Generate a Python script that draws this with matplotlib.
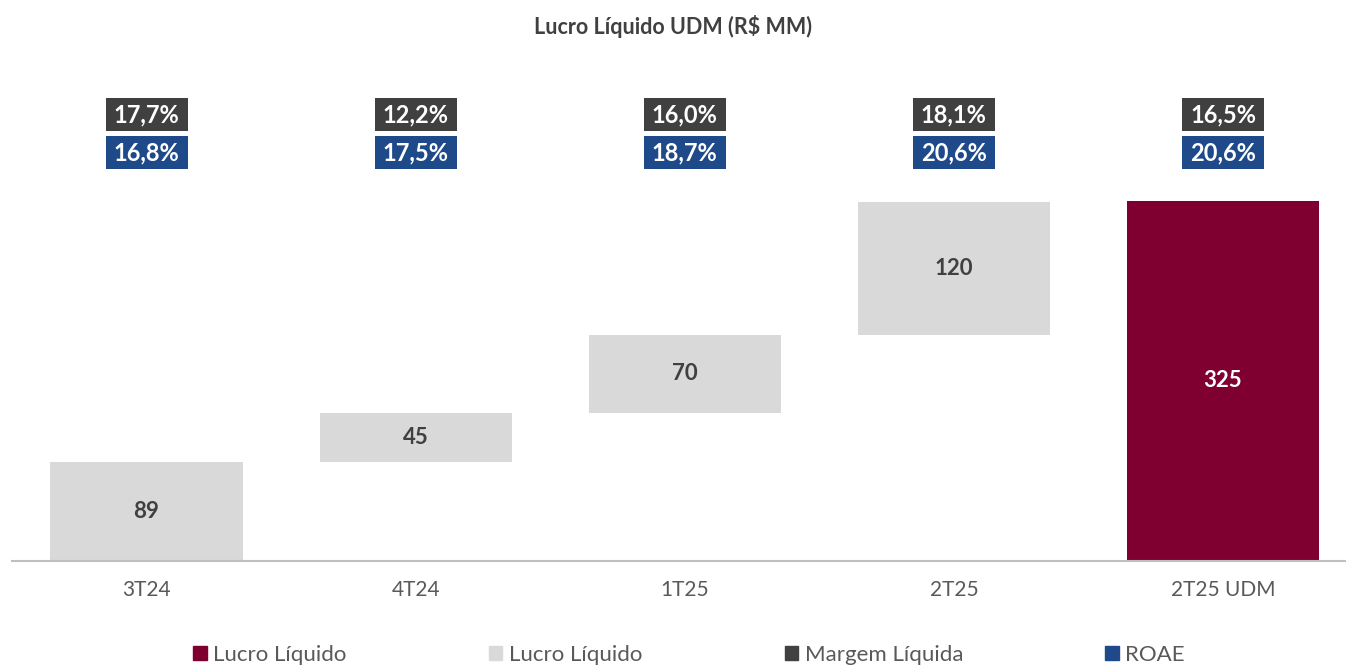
import matplotlib.pyplot as plt
import numpy as np
from matplotlib.patches import Patch

plt.rcParams["font.family"] = ["Lato", "DejaVu Sans"]

CATEGORIES = ["3T24", "4T24", "1T25", "2T25", "2T25 UDM"]
QUARTER_PROFIT = [89, 45, 70, 120]
TOTAL_PROFIT = 325
NET_MARGIN = ["17,7%", "12,2%", "16,0%", "18,1%", "16,5%"]
ROAE = ["16,8%", "17,5%", "18,7%", "20,6%", "20,6%"]

MAROON = "#7F0030"
LIGHT = "#D9D9D9"
DARK = "#404040"
BLUE = "#1F4A89"


def main() -> None:
    fig = plt.figure(figsize=(13.46, 6.65), dpi=100)
    ax = fig.add_axes([12 / 1346, 104 / 665, 1334 / 1346, 481 / 665])

    x = np.arange(len(CATEGORIES))
    vals = np.array(QUARTER_PROFIT, dtype=float)
    bottoms = np.concatenate([[0], np.cumsum(vals)[:-1]])
    width = 0.714

    ax.bar(x[:-1], vals, bottom=bottoms, width=width, color=LIGHT, label="Lucro Líquido")
    ax.bar(x[-1], TOTAL_PROFIT, width=width, color=MAROON, label="Lucro Líquido")

    for xi, v, b in zip(x[:-1], vals, bottoms):
        ax.text(xi, b + v / 2, f"{v:.0f}", ha="center", va="center",
                fontsize=16, fontweight="bold", color=DARK)
    ax.text(x[-1], TOTAL_PROFIT / 2, f"{TOTAL_PROFIT}", ha="center", va="center",
            fontsize=16, fontweight="bold", color="white")

    # label boxes above the bars
    box_w = 0.305
    box_h = 30
    for xi, m, r in zip(x, NET_MARGIN, ROAE):
        ax.bar(xi, box_h, bottom=388, width=box_w, color=DARK)
        ax.bar(xi, box_h, bottom=353.5, width=box_w, color=BLUE)
        ax.text(xi, 388 + box_h / 2, m, ha="center", va="center",
                fontsize=17, fontweight="bold", color="white")
        ax.text(xi, 353.5 + box_h / 2, r, ha="center", va="center",
                fontsize=17, fontweight="bold", color="white")

    ax.set_xlim(-0.5, 4.457)
    ax.set_ylim(0, 434.2)
    ax.set_xticks(x)
    ax.set_xticklabels(CATEGORIES, fontsize=15, color="#595959")
    ax.tick_params(axis="x", length=0, pad=14)
    ax.set_yticks([])
    for side in ["top", "right", "left"]:
        ax.spines[side].set_visible(False)
    ax.spines["bottom"].set_color("#BFBFBF")
    ax.spines["bottom"].set_linewidth(1.5)

    fig.text(0.5, 1 - 27 / 665, "Lucro Líquido UDM (R$ MM)", ha="center", va="center",
             fontsize=15.5, fontweight="bold", color=DARK)

    handles = [
        Patch(color=MAROON, label="Lucro Líquido"),
        Patch(color=LIGHT, label="Lucro Líquido"),
        Patch(color=DARK, label="Margem Líquida"),
        Patch(color=BLUE, label="ROAE"),
    ]
    leg = fig.legend(handles=handles, loc="center", bbox_to_anchor=(0.512, 10 / 665),
                     ncol=4, frameon=False, fontsize=16, handlelength=0.6,
                     handleheight=0.6, handletextpad=0.3, columnspacing=6.4)
    for t in leg.get_texts():
        t.set_color("#595959")

    fig.savefig("out.png", dpi=100)


if __name__ == "__main__":
    main()
